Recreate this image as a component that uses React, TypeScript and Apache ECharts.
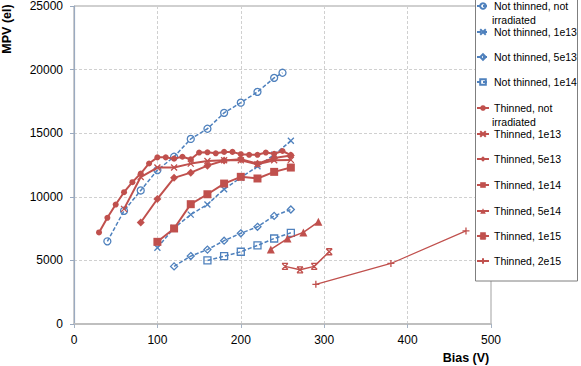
import React, { useEffect, useRef } from "react";
import * as echarts from "echarts";

const ntNiX = [40, 60, 80, 100, 120, 140, 160, 180, 200, 220, 240, 250];
const ntNiY = [6500, 8900, 10500, 12100, 13150, 14550, 15350, 16600, 17400, 18250, 19350, 19750];
const nt1e13X = [100, 120, 140, 160, 180, 200, 220, 240, 260];
const nt1e13Y = [6000, 7550, 8600, 9400, 10600, 11500, 12400, 13300, 14400];
const nt5e13X = [120, 140, 160, 180, 200, 220, 240, 260];
const nt5e13Y = [4530, 5340, 5850, 6550, 7130, 7640, 8500, 9000];
const nt1e14X = [160, 180, 200, 220, 240, 260];
const nt1e14Y = [5000, 5330, 5680, 6180, 6720, 7170];
const thNiX = [30, 40, 50, 60, 70, 80, 90, 100, 110, 120, 130, 140, 150, 160, 170, 180, 190, 200, 210, 220, 230, 240, 250, 260];
const thNiY = [7200, 8350, 9390, 10360, 11150, 11830, 12620, 13100, 13100, 13000, 13150, 12950, 13480, 13500, 13420, 13530, 13530, 13350, 13300, 13300, 13480, 13380, 13600, 13280];
const th1e13X = [60, 80, 100, 120, 140, 160, 180, 200, 220, 240, 260];
const th1e13Y = [9050, 11550, 12300, 12300, 12610, 12820, 12870, 12870, 12560, 12870, 12900];
const th5e13X = [80, 100, 120, 140, 160, 180, 200, 220, 240, 260];
const th5e13Y = [7980, 9830, 11490, 11900, 12450, 12850, 12950, 12600, 13050, 13250];
const th1e14X = [100, 120, 140, 160, 180, 200, 220, 240, 260];
const th1e14Y = [6460, 7510, 9420, 10200, 11040, 11570, 11440, 11960, 12300];
const th5e14X = [236, 256, 275, 293];
const th5e14Y = [5860, 6720, 7200, 8030];
const th1e15X = [253, 271, 288, 306];
const th1e15Y = [4530, 4260, 4530, 5680];
const th2e15X = [290, 380, 470];
const th2e15Y = [3120, 4760, 7320];

const xTicks = [0, 100, 200, 300, 400, 500];
const yTicks = [0, 5000, 10000, 15000, 20000, 25000];

const BLUE = "#4F81BD";
const RED = "#C0504D";
const FONT = "Liberation Sans";

const X_SYM = "path://M0,0L10,10M10,0L0,10";
const XBAR_SYM = "path://M0,0L10,0M0,10L10,10M0,0L10,10M10,0L0,10";
const PLUS_SYM = "path://M5,0L5,10M0,5L10,5";

const zip = (xs: number[], ys: number[]) => xs.map((x, i) => [x, ys[i]]);

type Def = {
  name: string;
  label: string;
  xs: number[];
  ys: number[];
  color: string;
  dashed: boolean;
  symbol: string;
  size: number;
  filled: boolean;
  width: number;
  top: number;
};

const defs: Def[] = [
  { name: "Not thinned, not irradiated", label: "Not thinned, not", xs: ntNiX, ys: ntNiY, color: BLUE, dashed: true, symbol: "circle", size: 7, filled: false, width: 1.5, top: 6 },
  { name: "Not thinned, 1e13", label: "Not thinned, 1e13", xs: nt1e13X, ys: nt1e13Y, color: BLUE, dashed: true, symbol: X_SYM, size: 6, filled: false, width: 1.5, top: 32 },
  { name: "Not thinned, 5e13", label: "Not thinned, 5e13", xs: nt5e13X, ys: nt5e13Y, color: BLUE, dashed: true, symbol: "diamond", size: 7, filled: false, width: 1.5, top: 57 },
  { name: "Not thinned, 1e14", label: "Not thinned, 1e14", xs: nt1e14X, ys: nt1e14Y, color: BLUE, dashed: true, symbol: "rect", size: 7, filled: false, width: 1.5, top: 82 },
  { name: "Thinned, not irradiated", label: "Thinned, not", xs: thNiX, ys: thNiY, color: RED, dashed: false, symbol: "circle", size: 6, filled: true, width: 2, top: 108 },
  { name: "Thinned, 1e13", label: "Thinned, 1e13", xs: th1e13X, ys: th1e13Y, color: RED, dashed: false, symbol: X_SYM, size: 6, filled: false, width: 2, top: 134 },
  { name: "Thinned, 5e13", label: "Thinned, 5e13", xs: th5e13X, ys: th5e13Y, color: RED, dashed: false, symbol: "diamond", size: 8, filled: true, width: 2, top: 159 },
  { name: "Thinned, 1e14", label: "Thinned, 1e14", xs: th1e14X, ys: th1e14Y, color: RED, dashed: false, symbol: "rect", size: 8, filled: true, width: 2, top: 185 },
  { name: "Thinned, 5e14", label: "Thinned, 5e14", xs: th5e14X, ys: th5e14Y, color: RED, dashed: false, symbol: "triangle", size: 8, filled: true, width: 1.5, top: 211 },
  { name: "Thinned, 1e15", label: "Thinned, 1e15", xs: th1e15X, ys: th1e15Y, color: RED, dashed: false, symbol: XBAR_SYM, size: 6, filled: false, width: 1.5, top: 236 },
  { name: "Thinned, 2e15", label: "Thinned, 2e15", xs: th2e15X, ys: th2e15Y, color: RED, dashed: false, symbol: PLUS_SYM, size: 7, filled: false, width: 1.2, top: 261 },
];

export default function App() {
  const ref = useRef<HTMLDivElement>(null);
  useEffect(() => {
    if (!ref.current) return;
    const chart = echarts.init(ref.current, null, { renderer: "svg" });
    const series = defs.map((d) => ({
      name: d.name,
      type: "line",
      data: zip(d.xs, d.ys),
      symbol: d.symbol,
      symbolSize: d.size,
      showSymbol: true,
      lineStyle: { color: d.color, width: d.width, type: d.dashed ? [4, 2] : "solid" },
      itemStyle: {
        color: d.filled ? d.color : "rgba(0,0,0,0)",
        borderColor: d.color,
        borderWidth: d.filled ? 0 : 1.3,
      },
      z: d.color === RED ? 3 : 2,
    }));
    const legends = defs.map((d) => ({
      data: [d.name],
      left: 476,
      top: d.top - 6,
      padding: 0,
      itemWidth: 12,
      itemHeight: 7,
      selectedMode: false,
      formatter: () => d.label,
      textStyle: { fontFamily: FONT, fontSize: 10.5, color: "#000", lineHeight: 12 },
      z: 5,
    }));
    chart.setOption({
      animation: false,
      backgroundColor: "#fff",
      grid: {
        left: 74,
        right: 90,
        top: 5.5,
        bottom: 42,
        show: true,
        borderColor: "#A0A0A0",
        borderWidth: 1,
      },
      xAxis: {
        type: "value",
        min: xTicks[0],
        max: xTicks[xTicks.length - 1],
        interval: 100,
        axisLine: { show: true, onZero: false, lineStyle: { color: "#BFBFBF", width: 2 } },
        axisTick: { show: true, length: 4, lineStyle: { color: "#A6B3C4" } },
        axisLabel: { fontFamily: FONT, fontSize: 12, color: "#000", margin: 10, formatter: (v: number) => String(v) },
        splitLine: { show: true, lineStyle: { color: "#D0D0D0", type: [3, 2] } },
      },
      yAxis: {
        type: "value",
        min: yTicks[0],
        max: yTicks[yTicks.length - 1],
        interval: 5000,
        axisLine: { show: true, lineStyle: { color: "#9AAAC0", width: 1.2 } },
        axisTick: { show: true, length: 4, lineStyle: { color: "#9AAAC0" } },
        axisLabel: { fontFamily: FONT, fontSize: 12, color: "#000", margin: 11, formatter: (v: number) => String(v) },
        splitLine: { show: true, lineStyle: { color: "#D0D0D0", type: [3, 2] } },
      },
      legend: legends,
      graphic: [
        {
          type: "rect",
          z: 4,
          shape: { x: 475.5, y: -1, width: 102, height: 282 },
          style: { fill: "#fff", stroke: "#7F7F7F", lineWidth: 1 },
        },
        {
          type: "text",
          z: 6,
          x: 492,
          y: 20,
          style: { text: "irradiated", font: `10.5px "${FONT}"`, fill: "#000", textVerticalAlign: "middle" },
        },
        {
          type: "text",
          z: 6,
          x: 492,
          y: 122,
          style: { text: "irradiated", font: `10.5px "${FONT}"`, fill: "#000", textVerticalAlign: "middle" },
        },
        {
          type: "text",
          z: 6,
          x: 7,
          y: 29,
          rotation: Math.PI / 2,
          style: { text: "MPV (el)", font: `bold 12.5px "${FONT}"`, fill: "#000", textAlign: "center", textVerticalAlign: "middle" },
        },
        {
          type: "text",
          z: 6,
          x: 466,
          y: 358,
          style: { text: "Bias (V)", font: `bold 12.5px "${FONT}"`, fill: "#000", textAlign: "center", textVerticalAlign: "middle" },
        },
      ],
      series,
    });
    return () => chart.dispose();
  }, []);
  return <div ref={ref} style={{ width: 581, height: 366, position: "absolute", left: 0, top: 0 }} />;
}
